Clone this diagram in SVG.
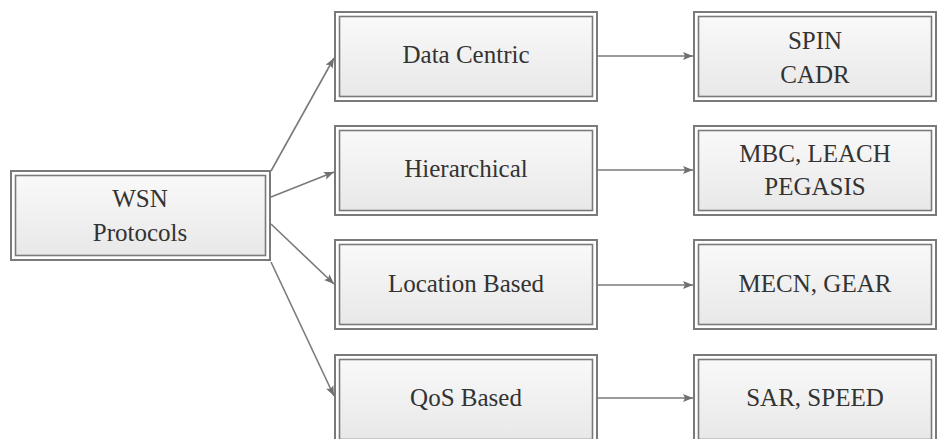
<svg xmlns="http://www.w3.org/2000/svg" width="945" height="439" viewBox="0 0 945 439">
<defs>
<linearGradient id="g" x1="0" y1="0" x2="0" y2="1">
<stop offset="0" stop-color="#f9f9f9"/>
<stop offset="1" stop-color="#e8e8e8"/>
</linearGradient>
<marker id="ah" viewBox="0 0 10 10" refX="10" refY="5" markerWidth="10" markerHeight="10" markerUnits="userSpaceOnUse" orient="auto">
<path d="M0,1 L10,5 L0,9 L2,5 Z" fill="#707070"/>
</marker>
</defs>
<style>
.o{fill:#fff;stroke:#7a7a7a;stroke-width:2}
.i{fill:url(#g);stroke:#7a7a7a;stroke-width:1.6}
.t{font-size:25px;fill:#333;text-anchor:middle}
.c{stroke:#7a7a7a;stroke-width:1.6;fill:none;marker-end:url(#ah)}
</style>
<rect width="945" height="439" fill="#fff"/>
<g id="connectors">
<line class="c" x1="271" y1="171" x2="334" y2="58"/>
<line class="c" x1="271" y1="197" x2="334" y2="172"/>
<line class="c" x1="271" y1="224" x2="334" y2="284"/>
<line class="c" x1="271" y1="262" x2="334" y2="396"/>
<line class="c" x1="598" y1="56" x2="693" y2="56"/>
<line class="c" x1="598" y1="170" x2="693" y2="170"/>
<line class="c" x1="598" y1="285" x2="693" y2="285"/>
<line class="c" x1="598" y1="398" x2="693" y2="398"/>
</g>
<g font-family="Liberation Serif, serif">
<g id="wsn">
<rect class="o" x="11" y="171" width="259" height="89"/>
<rect class="i" x="15.5" y="175.5" width="250" height="80"/>
<text class="t" x="140" y="207">WSN</text>
<text class="t" x="140" y="241">Protocols</text>
</g>
<g id="datacentric">
<rect class="o" x="335" y="12" width="262" height="89"/>
<rect class="i" x="339.5" y="16.5" width="253" height="80"/>
<text class="t" x="466" y="63">Data Centric</text>
</g>
<g id="hierarchical">
<rect class="o" x="335" y="126" width="262" height="89"/>
<rect class="i" x="339.5" y="130.5" width="253" height="80"/>
<text class="t" x="466" y="177">Hierarchical</text>
</g>
<g id="location">
<rect class="o" x="335" y="240" width="262" height="89"/>
<rect class="i" x="339.5" y="244.5" width="253" height="80"/>
<text class="t" x="466" y="292">Location Based</text>
</g>
<g id="qos">
<rect class="o" x="335" y="355" width="262" height="89"/>
<rect class="i" x="339.5" y="359.5" width="253" height="80"/>
<text class="t" x="466" y="406">QoS Based</text>
</g>
<g id="spin">
<rect class="o" x="694" y="12" width="242" height="89"/>
<rect class="i" x="698.5" y="16.5" width="233" height="80"/>
<text class="t" x="815" y="49">SPIN</text>
<text class="t" x="815" y="83">CADR</text>
</g>
<g id="mbc">
<rect class="o" x="694" y="126" width="242" height="89"/>
<rect class="i" x="698.5" y="130.5" width="233" height="80"/>
<text class="t" x="815" y="162">MBC, LEACH</text>
<text class="t" x="815" y="195">PEGASIS</text>
</g>
<g id="mecn">
<rect class="o" x="694" y="240" width="242" height="89"/>
<rect class="i" x="698.5" y="244.5" width="233" height="80"/>
<text class="t" x="815" y="292">MECN, GEAR</text>
</g>
<g id="sar">
<rect class="o" x="694" y="355" width="242" height="89"/>
<rect class="i" x="698.5" y="359.5" width="233" height="80"/>
<text class="t" x="815" y="406">SAR, SPEED</text>
</g>
</g>
</svg>
